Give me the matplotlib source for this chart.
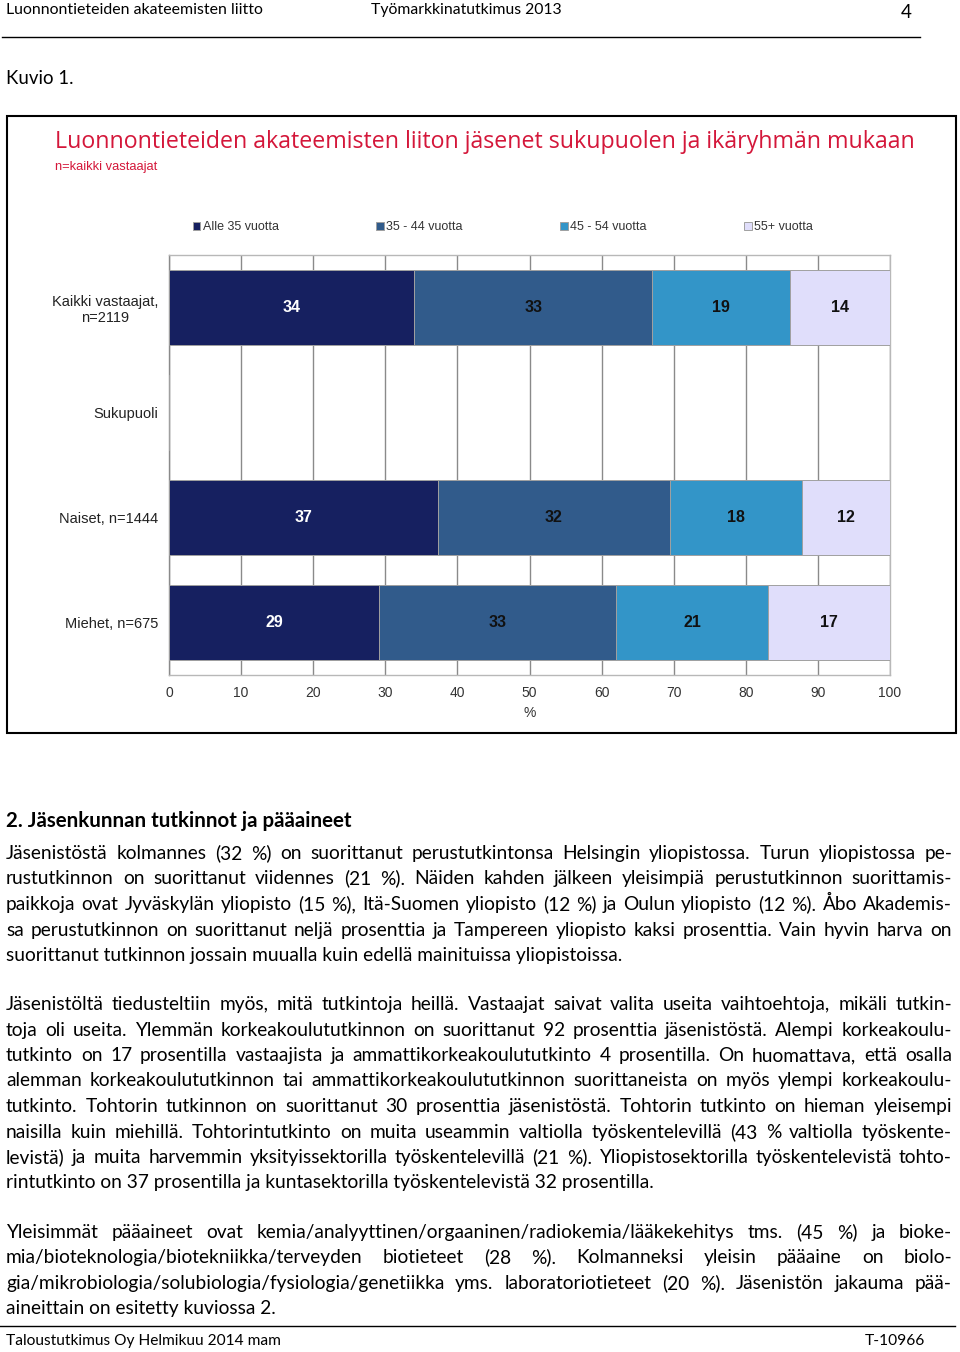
import matplotlib
matplotlib.use('Agg')
import matplotlib.pyplot as plt
import numpy as np
from matplotlib.patches import Rectangle
from matplotlib.lines import Line2D

# chart data (shares in %, labels show the rounded value)
GROUPS = ['Kaikki vastaajat,\nn=2119', 'Sukupuoli', 'Naiset, n=1444', 'Miehet, n=675']
AGES = ['Alle 35 vuotta', '35 - 44 vuotta', '45 - 54 vuotta', '55+ vuotta']
ALLE35 = [34.0, 0, 37.3, 29.1]
V35_44 = [33.0, 0, 32.2, 32.9]
V45_54 = [19.1, 0, 18.3, 21.1]
V55 = [13.9, 0, 12.2, 16.9]
COLORS = ['#162060', '#315b8b', '#3395c8', '#e0defb']
LABELCOLORS = ['white', '#111111', '#111111', '#111111']
XTICKS = [0, 10, 20, 30, 40, 50, 60, 70, 80, 90, 100]

# page text
HEADER_LEFT = 'Luonnontieteiden akateemisten liitto'
HEADER_MID = 'Työmarkkinatutkimus 2013'
PAGE_NO = '4'
CAPTION = 'Kuvio 1.'
CHART_TITLE = 'Luonnontieteiden akateemisten liiton jäsenet sukupuolen ja ikäryhmän mukaan'
CHART_SUB = 'n=kaikki vastaajat'
HEADING = '2. Jäsenkunnan tutkinnot ja pääaineet'
PARA1 = [
    'Jäsenistöstä kolmannes (32 %) on suorittanut perustutkintonsa Helsingin yliopistossa. Turun yliopistossa pe-',
    'rustutkinnon on suorittanut viidennes (21 %). Näiden kahden jälkeen yleisimpiä perustutkinnon suorittamis-',
    'paikkoja ovat Jyväskylän yliopisto (15 %), Itä-Suomen yliopisto (12 %) ja Oulun yliopisto (12 %). Åbo Akademis-',
    'sa perustutkinnon on suorittanut neljä prosenttia ja Tampereen yliopisto kaksi prosenttia. Vain hyvin harva on',
    'suorittanut tutkinnon jossain muualla kuin edellä mainituissa yliopistoissa.',
]
PARA2 = [
    'Jäsenistöltä tiedusteltiin myös, mitä tutkintoja heillä. Vastaajat saivat valita useita vaihtoehtoja, mikäli tutkin-',
    'toja oli useita. Ylemmän korkeakoulututkinnon on suorittanut 92 prosenttia jäsenistöstä. Alempi korkeakoulu-',
    'tutkinto on 17 prosentilla vastaajista ja ammattikorkeakoulututkinto 4 prosentilla. On huomattava, että osalla',
    'alemman korkeakoulututkinnon tai ammattikorkeakoulututkinnon suorittaneista on myös ylempi korkeakoulu-',
    'tutkinto. Tohtorin tutkinnon on suorittanut 30 prosenttia jäsenistöstä. Tohtorin tutkinto on hieman yleisempi',
    'naisilla kuin miehillä. Tohtorintutkinto on muita useammin valtiolla työskentelevillä (43 % valtiolla työskente-',
    'levistä) ja muita harvemmin yksityissektorilla työskentelevillä (21 %). Yliopistosektorilla työskentelevistä tohto-',
    'rintutkinto on 37 prosentilla ja kuntasektorilla työskentelevistä 32 prosentilla.',
]
PARA3 = [
    'Yleisimmät pääaineet ovat kemia/analyyttinen/orgaaninen/radiokemia/lääkekehitys tms. (45 %) ja bioke-',
    'mia/bioteknologia/biotekniikka/terveyden biotieteet (28 %). Kolmanneksi yleisin pääaine on biolo-',
    'gia/mikrobiologia/solubiologia/fysiologia/genetiikka yms. laboratoriotieteet (20 %). Jäsenistön jakauma pää-',
    'aineittain on esitetty kuviossa 2.',
]
FOOTER_LEFT = 'Taloustutkimus Oy Helmikuu 2014 mam'
FOOTER_RIGHT = 'T-10966'

W, H = 960, 1352
BODYFONT = 'Lato'
CHARTFONT = 'Liberation Sans'
BODYSIZE = 13.8

fig = plt.figure(figsize=(W / 100, H / 100), dpi=100)
renderer = fig.canvas.get_renderer()


def fx(x):
    return x / W


def fy(y):
    return 1 - y / H


def put_line(y, line, justify, size=BODYSIZE, weight='normal'):
    # y is the middle of the lowercase letters; words sit on a whole-pixel baseline
    base = fy(round(y + 5))
    words = line.split(' ')
    if not justify:
        fig.text(fx(6), base, line, fontsize=size, family=BODYFONT,
                 weight=weight, va='baseline', ha='left')
        return
    ts = [fig.text(0, base, w, fontsize=size, family=BODYFONT,
                   va='baseline', ha='left') for w in words]
    widths = [t.get_window_extent(renderer).width for t in ts]
    gap = (952 - 6 - sum(widths)) / (len(words) - 1)
    if gap < 3:
        for t in ts:
            t.remove()
        put_line(y, line, justify, size=size - 0.3, weight=weight)
        return
    x = 6
    for t, w in zip(ts, widths):
        t.set_x(fx(x))
        x += w + gap


# header
fig.text(fx(6), fy(10), HEADER_LEFT, fontsize=11.4, family=BODYFONT, va='center')
fig.text(fx(371), fy(10), HEADER_MID, fontsize=11.3, family=BODYFONT, va='center')
fig.text(fx(906), fy(12), PAGE_NO, fontsize=13.5, family=BODYFONT, va='center', ha='center')
fig.add_artist(Line2D([fx(2), fx(920)], [fy(37), fy(37)], color='black', lw=1))
fig.text(fx(6), fy(78), CAPTION, fontsize=13.4, family=BODYFONT, va='center')

# chart frame
fig.add_artist(Rectangle((fx(7), fy(733)), fx(956) - fx(7), fy(116) - fy(733),
                         fill=False, edgecolor='black', lw=1.5))
fig.text(fx(55), fy(142), CHART_TITLE, fontsize=16.7, family='Open Sans',
         color='#d4173a', va='center')
fig.text(fx(55), fy(167), CHART_SUB, fontsize=9.3, family=CHARTFONT,
         color='#d4173a', va='center')

ax = fig.add_axes([fx(169), fy(675), fx(890) - fx(169), fy(255) - fy(675)])
y = np.arange(len(GROUPS))
left = np.zeros(len(GROUPS))
series = [ALLE35, V35_44, V45_54, V55]
handles = []
for vals, col, lc, name in zip(series, COLORS, LABELCOLORS, AGES):
    vals = np.array(vals, dtype=float)
    bars = ax.barh(y, vals, left=left, height=0.714, color=col,
                   edgecolor='#a0a0a0', linewidth=0.7, zorder=3, label=name)
    handles.append(bars)
    for yi, v, l in zip(y, vals, left):
        if v > 0:
            ax.text(l + v / 2, yi, '%d' % round(v), ha='center', va='center',
                    fontsize=11.5, weight='bold', color=lc,
                    family=CHARTFONT, zorder=4)
    left = left + vals

ax.set_xlim(0, 100)
ax.set_ylim(3.5, -0.5)
ax.set_xticks(XTICKS)
ax.set_xticklabels([str(t) for t in XTICKS], fontsize=10, family=CHARTFONT, color='#333333')
ax.set_yticks(y)
ax.set_yticklabels(GROUPS, fontsize=10.5, family=CHARTFONT, color='#222222',
                   ha='right', multialignment='center')
ax.tick_params(axis='x', length=0, pad=8)
ax.tick_params(axis='y', length=0, pad=8)
ax.grid(axis='x', color='#8a8a8a', lw=1, zorder=0)
for s in ax.spines.values():
    s.set_color('#b8b8b8')
    s.set_linewidth(1)
ax.spines['left'].set_color('#8a8a8a')
ax.set_xlabel('%', fontsize=10, family=CHARTFONT, color='#333333', labelpad=4)

fig.legend(handles=handles, labels=AGES, ncol=4, loc='center',
           bbox_to_anchor=(fx(503), fy(227)), frameon=False,
           prop={'family': CHARTFONT, 'size': 9},
           handlelength=0.6, handleheight=0.6, handletextpad=0.2,
           columnspacing=7.8, labelcolor='#333333')

# body text
put_line(822, HEADING, False, size=14.8, weight='bold')
for i, ln in enumerate(PARA1):
    put_line(854 + i * 25.5, ln, i < len(PARA1) - 1)
for i, ln in enumerate(PARA2):
    put_line(1005 + i * 25.5, ln, i < len(PARA2) - 1)
for i, ln in enumerate(PARA3):
    put_line(1233 + i * 25.4, ln, i < len(PARA3) - 1)

# footer
fig.add_artist(Line2D([fx(0), fx(955)], [fy(1326), fy(1326)], color='black', lw=1))
fig.text(fx(6), fy(1341), FOOTER_LEFT, fontsize=11.2, family=BODYFONT, va='center')
fig.text(fx(925), fy(1341), FOOTER_RIGHT, fontsize=11.2, family=BODYFONT,
         va='center', ha='right')

fig.savefig('out.png', dpi=100)
